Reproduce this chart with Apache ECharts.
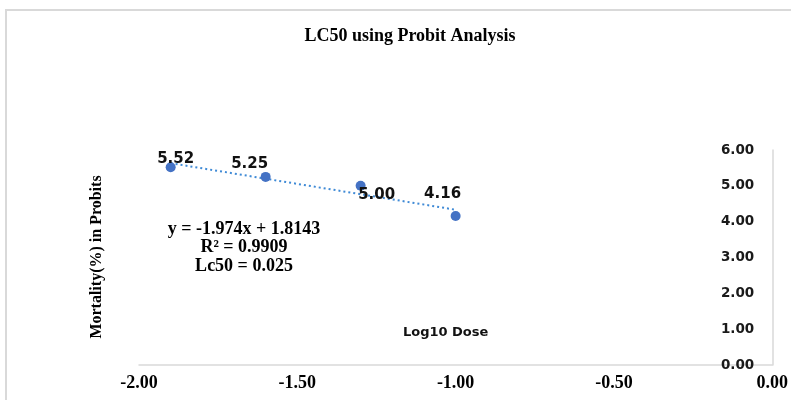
<!DOCTYPE html>
<html>
<head>
<meta charset="utf-8">
<title>LC50 using Probit Analysis</title>
<script src="https://cdn.jsdelivr.net/npm/echarts@6/dist/echarts.min.js"></script>
<style>
  html, body { margin: 0; padding: 0; background: #fff; }
  #chart { width: 791px; height: 400px; }
</style>
</head>
<body>
<div id="chart"></div>
<script>
// Log10 dose vs mortality expressed in probits
const logDose = [-1.9, -1.6, -1.3, -1.0];
const probits = [5.52, 5.25, 5.00, 4.16];
const xTicks = { min: -2, max: 0, interval: 0.5 };
const yTicks = { min: 0, max: 6, interval: 1 };
const equationLines = ['y = -1.974x + 1.8143', 'R² = 0.9909', 'Lc50 = 0.025'];

// Label nudges so the value tags sit beside their points
const labelOffsets = [[5, -8], [-16, -13], [16, 9], [-13, -22]];

// Least-squares line through the points (linear trendline)
function linearFit(xs, ys) {
  const n = xs.length;
  const mx = xs.reduce((a, b) => a + b, 0) / n;
  const my = ys.reduce((a, b) => a + b, 0) / n;
  let sxy = 0, sxx = 0;
  for (let i = 0; i < n; i++) {
    sxy += (xs[i] - mx) * (ys[i] - my);
    sxx += (xs[i] - mx) * (xs[i] - mx);
  }
  const slope = sxy / sxx;
  return { slope, intercept: my - slope * mx };
}
const fit = linearFit(logDose, probits);
const xFrom = Math.min(...logDose), xTo = Math.max(...logDose);
const trend = [[xFrom, fit.intercept + fit.slope * xFrom], [xTo, fit.intercept + fit.slope * xTo]];

const points = logDose.map((x, i) => ({
  value: [x, probits[i]],
  label: { offset: labelOffsets[i] }
}));

const serifBold = { fontFamily: '"Liberation Serif", "Times New Roman", serif', fontWeight: 'bold', color: '#000' };
const sansBold = { fontFamily: '"DejaVu Sans", sans-serif', fontWeight: 'bold' };

const chart = echarts.init(document.getElementById('chart'), null, { renderer: 'canvas' });
chart.setOption({
  animation: false,
  backgroundColor: '#fff',
  title: {
    text: 'LC50 using Probit Analysis',
    left: 405, top: 22, textAlign: 'center',
    textStyle: Object.assign({ fontSize: 18 }, serifBold)
  },
  grid: { left: 139, right: 13, top: 150, bottom: 35 },
  xAxis: {
    type: 'value',
    min: xTicks.min, max: xTicks.max, interval: xTicks.interval,
    name: 'Log10 Dose',
    nameLocation: 'middle',
    nameGap: -39,
    nameTextStyle: Object.assign({ fontSize: 13, color: '#111', padding: [0, 20, 0, 0] }, sansBold),
    axisLine: { show: true, onZero: false, lineStyle: { color: '#d9d9d9', width: 1.5 } },
    axisTick: { show: false },
    splitLine: { show: false },
    axisLabel: Object.assign({ fontSize: 18, margin: 9, formatter: v => v.toFixed(2) }, serifBold)
  },
  yAxis: {
    type: 'value',
    position: 'right',
    min: yTicks.min, max: yTicks.max, interval: yTicks.interval,
    axisLine: { show: true, lineStyle: { color: '#d9d9d9', width: 1.5 } },
    axisTick: { show: false },
    splitLine: { show: false },
    axisLabel: Object.assign({ inside: true, margin: 18, fontSize: 13.5, color: '#1a1a1a', formatter: v => v.toFixed(2) }, sansBold)
  },
  series: [
    {
      type: 'line',
      data: trend,
      showSymbol: false,
      silent: true,
      lineStyle: { color: '#3f8ad6', width: 2, type: [2, 3] },
      z: 2
    },
    {
      type: 'scatter',
      data: points,
      symbolSize: 10,
      itemStyle: { color: '#4472C4', opacity: 1 },
      label: Object.assign({
        show: true,
        position: 'inside',
        fontSize: 15,
        color: '#111',
        formatter: p => p.value[1].toFixed(2)
      }, sansBold),
      z: 3
    }
  ],
  graphic: [
    {
      type: 'rect',
      silent: true,
      shape: { x: 6, y: 10, width: 800, height: 400 },
      style: { fill: 'none', stroke: '#d9d9d9', lineWidth: 2 },
      z: -1
    },
    {
      type: 'text',
      x: 97, y: 257,
      rotation: Math.PI / 2,
      style: {
        text: 'Mortality(%) in Probits',
        fontSize: 16,
        textAlign: 'center',
        textVerticalAlign: 'middle',
        fill: '#000',
        fontFamily: serifBold.fontFamily,
        fontWeight: 'bold'
      }
    },
    {
      type: 'text',
      x: 244, y: 220,
      style: {
        text: equationLines.join('\n'),
        fontSize: 18,
        lineHeight: 18.5,
        align: 'center',
        fill: '#000',
        fontFamily: serifBold.fontFamily,
        fontWeight: 'bold'
      }
    }
  ]
});
</script>
</body>
</html>
